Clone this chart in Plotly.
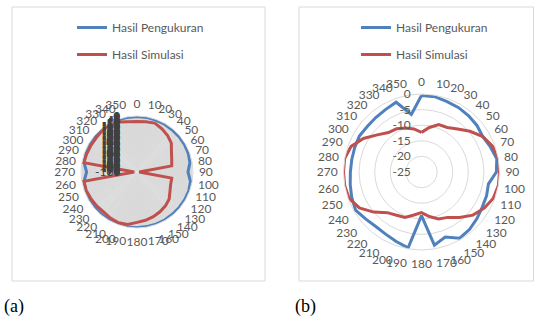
import plotly.graph_objects as go

# ---------------- data ----------------
angles = [str(a) for a in range(0, 360, 10)]

# panel (a)
a_pengukuran = [-1, -1, -1.5, -1.5, -2, -2, -2, -2.5, -4, -9, -3, -1.5, -1.5, -1.5, -1.5, -1, -1, -1,
                -0.5, -0.5, -1, -1, -1.5, -1.5, -2, -2.5, -4, -10, -4, -2.5, -2, -1.5, -1, -1, -1, -1]
a_simulasi = [-10, -9, -7, -11, -15, -20, -29, -34, -37, -96, -37, -36, -32, -25, -21, -18, -15, -12.5,
              -10, -5, -3.5, -5, -7, -6, -5, -3.5, -3.5, -95, -3.5, -4.5, -5, -5, -3.5, -2, -5, -9]
a_ticks = list(range(-100, 1))
a_ticktext = [str(v) for v in a_ticks]

# panel (b)
b_pengukuran = [-0.5, -0.5, -1.0, -1.2, -1.5, -1.8, -2.3, -1.5, -0.5, -1.0, -3.2, -2.8, -2.5, -1.8, -1.0,
                -0.5, -2.8, -1.2, -11, -0.3, -1.3, -2.0, -2.2, -1.6, -0.6, -1.2, -1.8, -2.2, -2.3, -2.2,
                -2.0, -2.3, -2.2, -1.9, -1.2, -6.3]
b_simulasi = [-12.3, -10.5, -8.8, -8.5, -7, -4.7, -2.3, -0.8, 0, 0, 0, -0.5, -1.8, -3.5, -6, -8.2, -9,
              -10.5, -12, -11, -9.5, -9, -8, -5, -2, -0.3, 0, 0, 0, -1, -3.5, -6.5, -8.5, -9, -10, -11]
b_ticks = [-25, -20, -15, -10, -5, 0]
b_ticktext = ["-25", "-20", "-15", "-10", "-5", "0"]

names = ["Hasil Pengukuran", "Hasil Simulasi"]
colors = ["#4F81BD", "#C0504D"]

FONT = "Lato"
GRAY = "#595959"

fig = go.Figure()


def closed(v):
    return list(v) + [v[0]]


for i, vals in enumerate([a_pengukuran, a_simulasi]):
    fig.add_trace(go.Scatterpolar(r=closed(vals), theta=closed(angles), mode="lines", name=names[i],
                                  line=dict(color=colors[i], width=3), subplot="polar", legend="legend",
                                  legendgroup="a%d" % i))
for i, vals in enumerate([b_pengukuran, b_simulasi]):
    fig.add_trace(go.Scatterpolar(r=closed(vals), theta=closed(angles), mode="lines", name=names[i],
                                  line=dict(color=colors[i], width=3), subplot="polar2", legend="legend2",
                                  legendgroup="b%d" % i))

W, H = 534, 322


def px_x(x):
    return x / W


def px_y(y):
    return 1 - y / H


def polar_dom(cx, cy, r):
    return dict(x=[px_x(cx - r), px_x(cx + r)], y=[px_y(cy + r), px_y(cy - r)])


angular_common = dict(type="category", rotation=90, direction="clockwise", showgrid=False,
                      showline=True, linecolor="#d9d9d9", linewidth=1,
                      ticks="outside", ticklen=3, tickcolor="rgba(0,0,0,0)",
                      tickfont=dict(family=FONT, size=12, color=GRAY))

fig.update_layout(
    width=W, height=H, margin=dict(l=0, r=0, t=0, b=0),
    paper_bgcolor="white", plot_bgcolor="white",
    font=dict(family=FONT, size=12, color=GRAY),
    polar=dict(
        domain=polar_dom(137, 172, 56), bgcolor="white", gridshape="linear",
        angularaxis=angular_common,
        radialaxis=dict(range=[-100, 0], tickvals=a_ticks, ticktext=a_ticktext, angle=90,
                        tickangle=90, side="counterclockwise", showline=False,
                        ticks="outside", ticklen=12, tickcolor="rgba(0,0,0,0)",
                        showgrid=True, gridcolor="#d9d9d9", gridwidth=1,
                        tickfont=dict(family=FONT, size=12, color="#404040")),
    ),
    polar2=dict(
        domain=polar_dom(421.5, 172, 78), bgcolor="white", gridshape="linear",
        angularaxis=angular_common,
        radialaxis=dict(range=[-25, 0], tickvals=b_ticks, ticktext=b_ticktext, angle=90,
                        tickangle=90, side="counterclockwise", showline=False,
                        ticks="outside", ticklen=6, tickcolor="rgba(0,0,0,0)",
                        showgrid=True, gridcolor="#d9d9d9", gridwidth=1,
                        tickfont=dict(family=FONT, size=12, color=GRAY)),
    ),
    legend=dict(x=px_x(72), y=px_y(13), xanchor="left", yanchor="top", bgcolor="rgba(0,0,0,0)",
                font=dict(family=FONT, size=12, color=GRAY), tracegroupgap=8),
    legend2=dict(x=px_x(356), y=px_y(13), xanchor="left", yanchor="top", bgcolor="rgba(0,0,0,0)",
                 font=dict(family=FONT, size=12, color=GRAY), tracegroupgap=8),
    showlegend=True,
    shapes=[
        dict(type="rect", xref="paper", yref="paper", x0=px_x(12), x1=px_x(265), y0=px_y(281), y1=px_y(7),
             line=dict(color="#d9d9d9", width=1), layer="below"),
        dict(type="rect", xref="paper", yref="paper", x0=px_x(299), x1=px_x(533.5), y0=px_y(281), y1=px_y(7),
             line=dict(color="#d9d9d9", width=1), layer="below"),
    ],
    annotations=[
        dict(text="(a)", x=px_x(2), y=px_y(306), xref="paper", yref="paper", xanchor="left", yanchor="middle",
             showarrow=False, font=dict(family="Liberation Serif", size=18, color="black")),
        dict(text="(b)", x=px_x(293), y=px_y(306), xref="paper", yref="paper", xanchor="left", yanchor="middle",
             showarrow=False, font=dict(family="Liberation Serif", size=18, color="black")),
    ],
)

fig.write_html("out.html", config={"displayModeBar": False},
               post_script="document.body.style.margin='0';document.body.style.overflow='hidden';")
